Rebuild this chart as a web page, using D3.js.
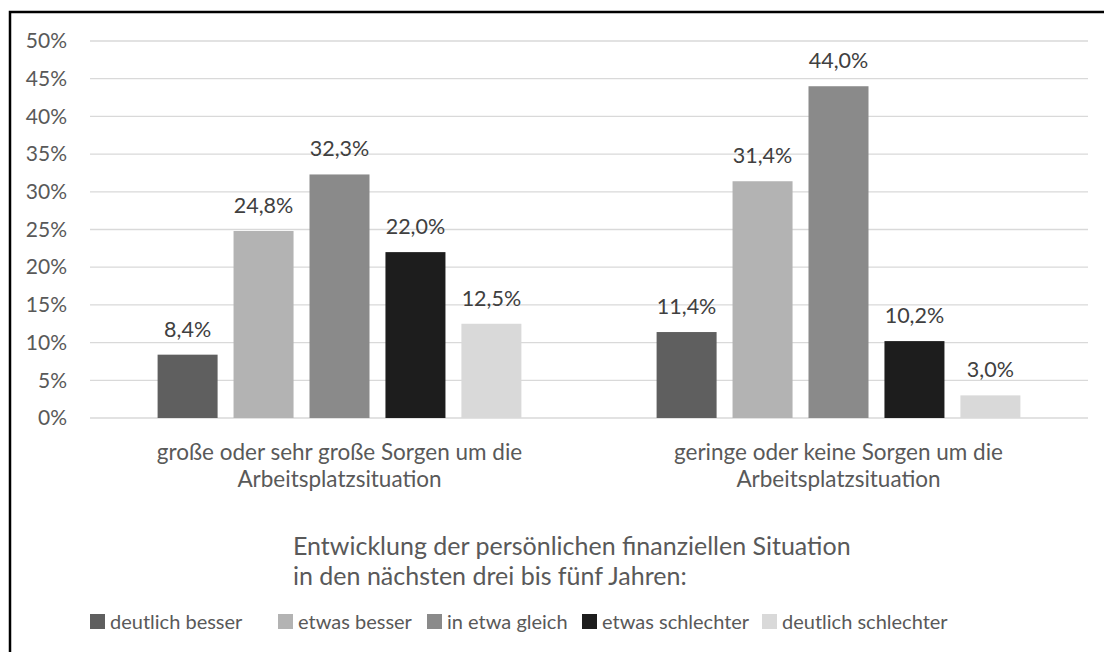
<!DOCTYPE html>
<html>
<head>
<meta charset="utf-8">
<script src="https://cdn.jsdelivr.net/npm/d3@7"></script>
<style>
  body { margin: 0; background: #fff; }
  svg text { font-family: Lato, "Open Sans", sans-serif; }
</style>
</head>
<body>
<div id="chart"></div>
<script>
// categories (two groups) and the five answer series
var categories = [
  ["große oder sehr große Sorgen um die", "Arbeitsplatzsituation"],
  ["geringe oder keine Sorgen um die", "Arbeitsplatzsituation"]
];
var seriesNames = ["deutlich besser", "etwas besser", "in etwa gleich", "etwas schlechter", "deutlich schlechter"];
var seriesColors = ["#5f5f5f", "#b3b3b3", "#8a8a8a", "#1d1d1d", "#d9d9d9"];
var valuesGroup1 = [8.4, 24.8, 32.3, 22.0, 12.5];
var valuesGroup2 = [11.4, 31.4, 44.0, 10.2, 3.0];
var yTicks = [0, 5, 10, 15, 20, 25, 30, 35, 40, 45, 50];
var titleLines = ["Entwicklung der persönlichen finanziellen Situation", "in den nächsten drei bis fünf Jahren:"];

var allValues = [valuesGroup1, valuesGroup2];

var svgWidth = 1104, svgHeight = 652;
var margin = { top: 41, right: 16, bottom: 234, left: 90 };
var width = svgWidth - margin.left - margin.right;
var height = svgHeight - margin.top - margin.bottom;

var svg = d3.select("#chart").append("svg")
  .attr("width", svgWidth)
  .attr("height", svgHeight);

// outer frame
svg.append("rect")
  .attr("x", 10).attr("y", 12)
  .attr("width", 1120).attr("height", 660)
  .attr("fill", "none")
  .attr("stroke", "#000")
  .attr("stroke-width", 2.5);

var chartGroup = svg.append("g")
  .attr("transform", `translate(${margin.left}, ${margin.top})`);

var x0 = d3.scaleBand()
  .domain(d3.range(categories.length))
  .range([0, width]);

var x1 = d3.scaleBand()
  .domain(seriesNames)
  .range([0, x0.bandwidth()])
  .paddingInner(0.21)
  .paddingOuter(0.89);

var y = d3.scaleLinear()
  .domain([0, 50])
  .range([height, 0]);

// gridlines
chartGroup.append("g")
  .selectAll("line")
  .data(yTicks)
  .enter()
  .append("line")
  .attr("x1", 0).attr("x2", width)
  .attr("y1", d => y(d)).attr("y2", d => y(d))
  .attr("stroke", "#d9d9d9")
  .attr("stroke-width", 1.3);

// y axis labels
var yAxis = d3.axisLeft(y).tickValues(yTicks).tickFormat(d => d + "%").tickSize(0).tickPadding(23);
var yAxisG = chartGroup.append("g").call(yAxis);
yAxisG.select(".domain").remove();
yAxisG.selectAll("text")
  .attr("fill", "#595959")
  .style("font-size", "21px");

// bars
var groups = chartGroup.selectAll("g.group")
  .data(allValues)
  .enter()
  .append("g")
  .attr("class", "group")
  .attr("transform", (d, i) => `translate(${x0(i)}, 0)`);

groups.selectAll("rect")
  .data(d => d.map((v, j) => ({ name: seriesNames[j], value: v, color: seriesColors[j] })))
  .enter()
  .append("rect")
  .attr("x", d => x1(d.name))
  .attr("y", d => y(d.value))
  .attr("width", x1.bandwidth())
  .attr("height", d => height - y(d.value))
  .attr("fill", d => d.color);

groups.selectAll("text.value")
  .data(d => d.map((v, j) => ({ name: seriesNames[j], value: v })))
  .enter()
  .append("text")
  .attr("class", "value")
  .attr("x", d => x1(d.name) + x1.bandwidth() / 2)
  .attr("y", d => y(d.value) - 18)
  .attr("text-anchor", "middle")
  .attr("fill", "#404040")
  .style("font-size", "21.5px")
  .text(d => d.value.toFixed(1).replace(".", ",") + "%");

// category labels
chartGroup.selectAll("text.cat")
  .data(categories)
  .enter()
  .append("text")
  .attr("class", "cat")
  .attr("x", (d, i) => x0(i) + x0.bandwidth() / 2)
  .attr("y", height + 42)
  .attr("text-anchor", "middle")
  .attr("fill", "#595959")
  .style("font-size", "22.5px")
  .selectAll("tspan")
  .data(d => d)
  .enter()
  .append("tspan")
  .attr("x", function () { return d3.select(this.parentNode).attr("x"); })
  .attr("dy", (d, i) => i === 0 ? 0 : 27)
  .text(d => d);

// legend title
svg.append("text")
  .attr("x", 293)
  .attr("y", 555)
  .attr("fill", "#595959")
  .style("font-size", "25px")
  .selectAll("tspan")
  .data(titleLines)
  .enter()
  .append("tspan")
  .attr("x", 293)
  .attr("dy", (d, i) => i === 0 ? 0 : 30)
  .text(d => d);

// legend
var legendX = [90, 278, 427, 582, 762];
var legend = svg.selectAll("g.legend")
  .data(seriesNames)
  .enter()
  .append("g")
  .attr("class", "legend")
  .attr("transform", (d, i) => `translate(${legendX[i]}, 629)`);

legend.append("rect")
  .attr("x", 0).attr("y", -15)
  .attr("width", 15).attr("height", 15)
  .attr("fill", (d, i) => seriesColors[i]);

legend.append("text")
  .attr("x", 20)
  .attr("y", 0)
  .attr("fill", "#595959")
  .style("font-size", "20px")
  .text(d => d);
</script>
</body>
</html>
